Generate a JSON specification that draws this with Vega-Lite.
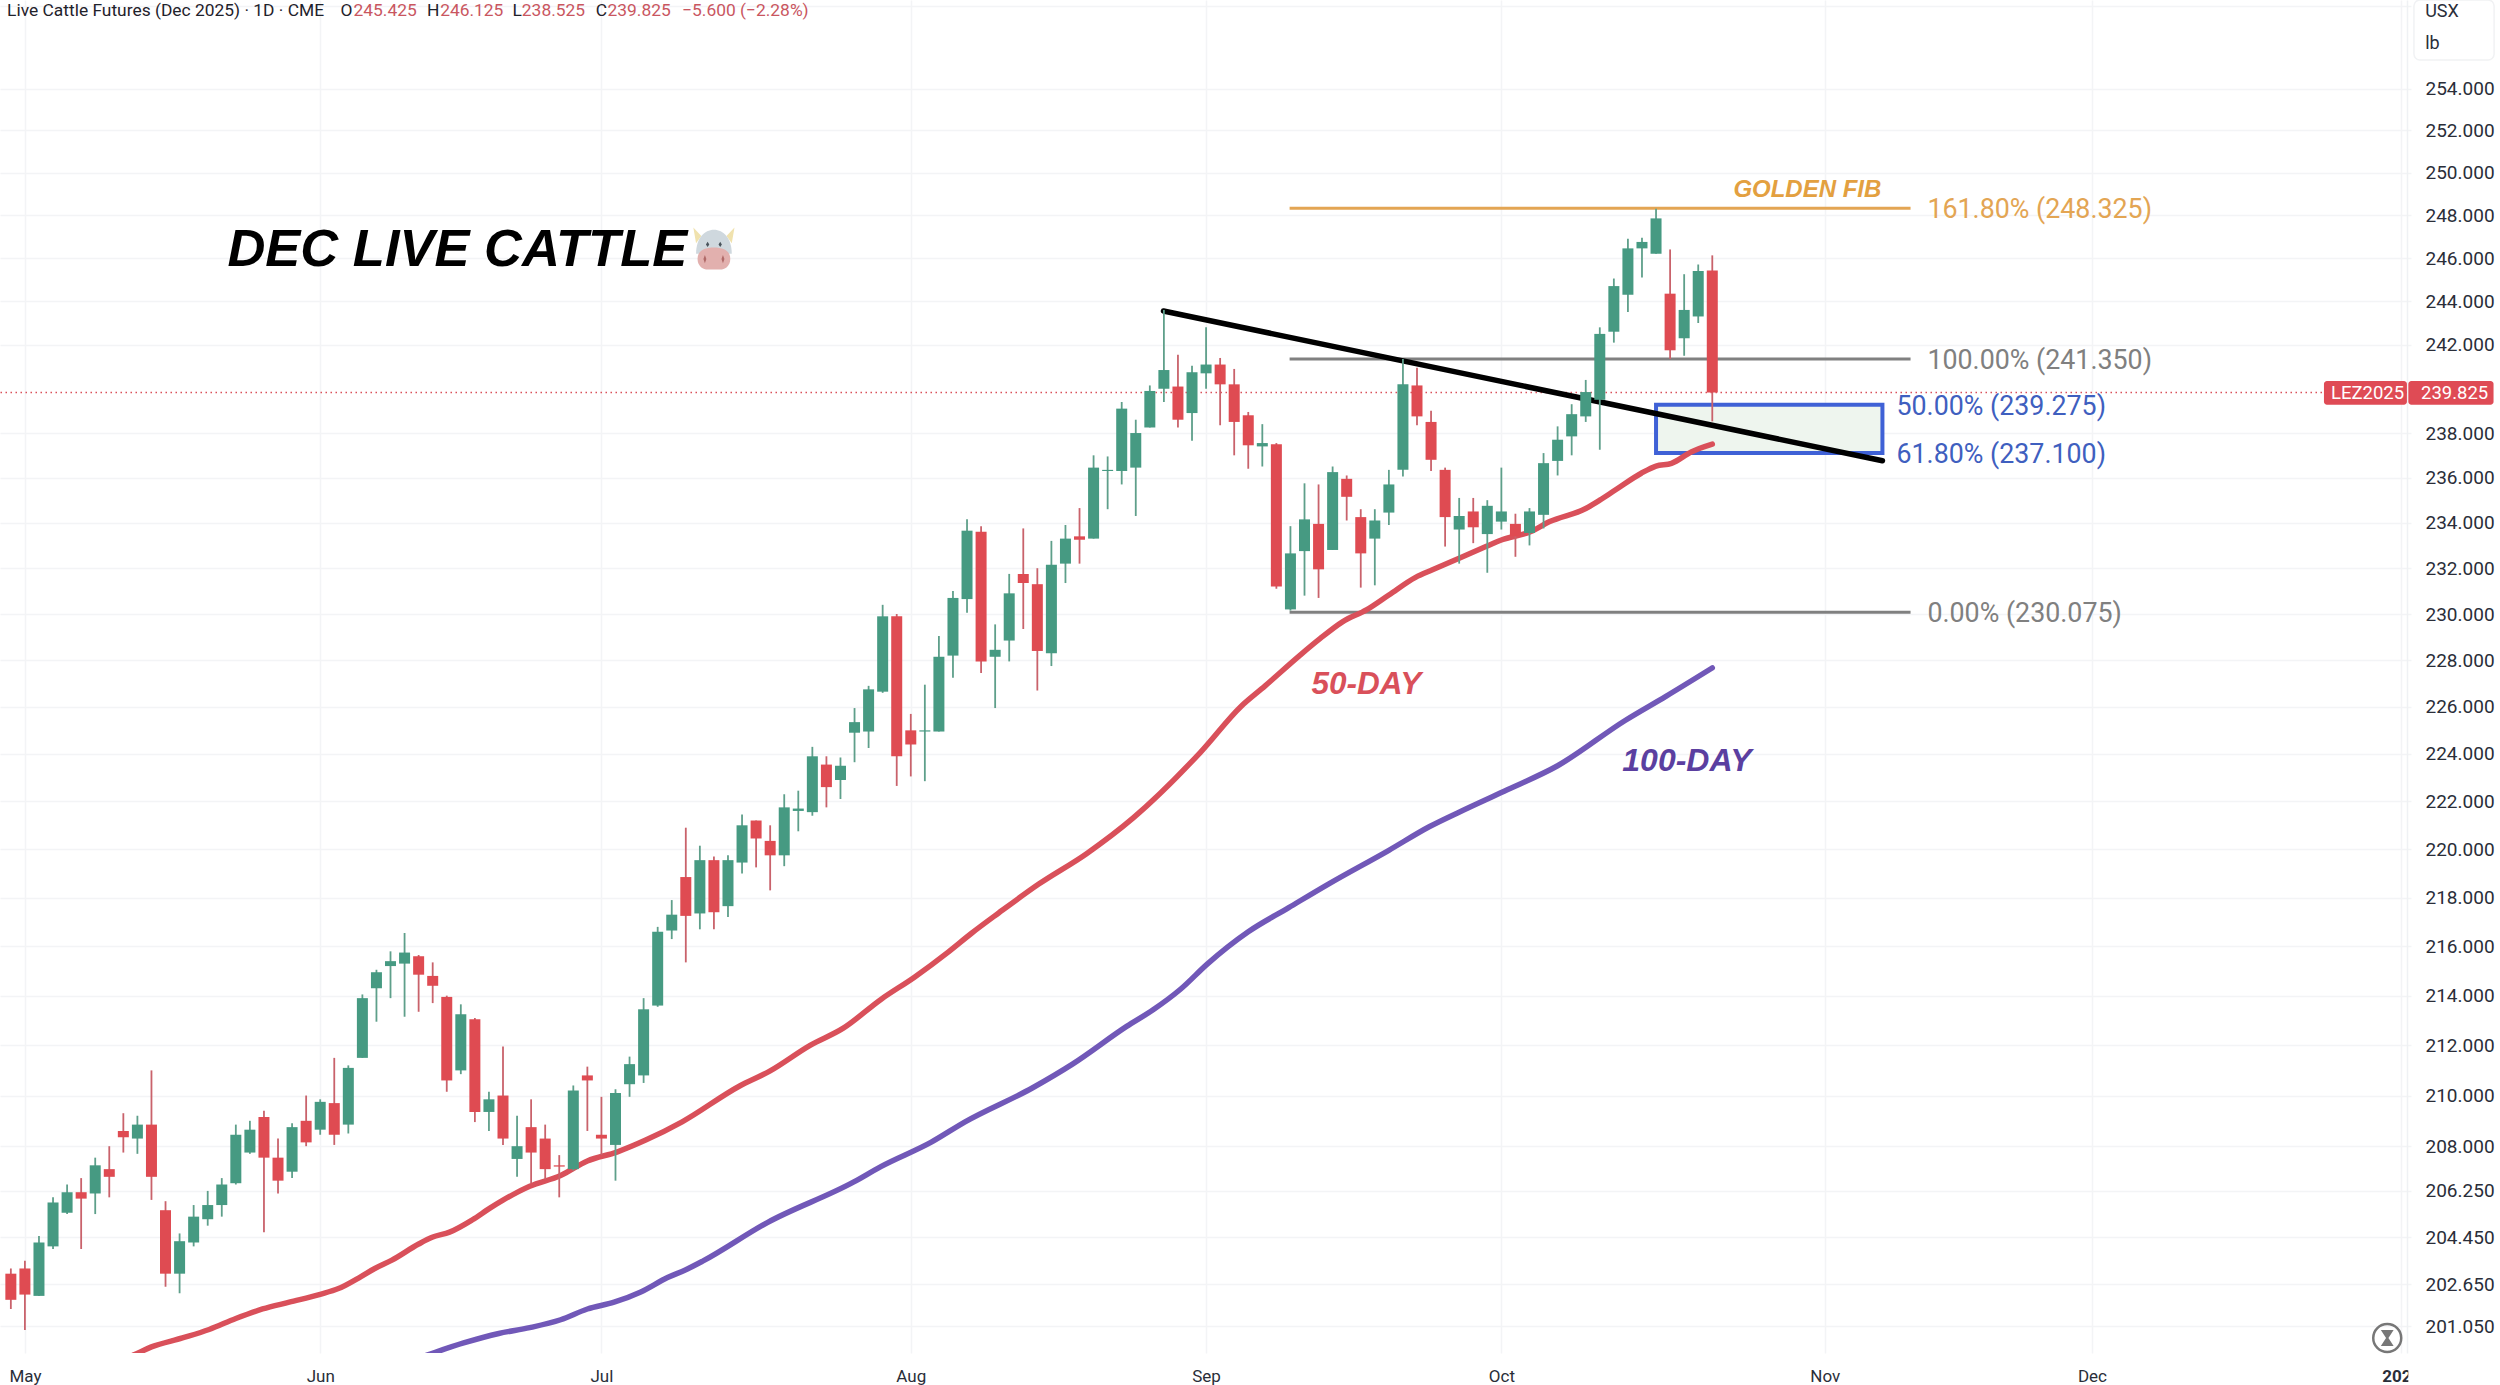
{
  "$schema": "https://vega.github.io/schema/vega-lite/v6.json",
  "width": 2407,
  "height": 1353,
  "autosize": "none",
  "padding": {"left": 0, "top": 0, "right": 93, "bottom": 32},
  "background": "white",
  "config": {"view": {"stroke": null}, "font": "Roboto"},
  "resolve": {"scale": {"color": "independent"}},
  "datasets": {
    "candles": [
      {"bar":-1,"open":203.05,"high":203.25,"low":201.7,"close":202.05},
      {"bar":0,"open":203.25,"high":203.55,"low":200.9,"close":202.25},
      {"bar":1,"open":202.2,"high":204.5,"low":202.2,"close":204.25},
      {"bar":2,"open":204.1,"high":206.0,"low":204.0,"close":205.8},
      {"bar":3,"open":205.4,"high":206.5,"low":205.35,"close":206.2},
      {"bar":4,"open":206.2,"high":206.75,"low":204.0,"close":205.95},
      {"bar":5,"open":206.15,"high":207.55,"low":205.35,"close":207.25},
      {"bar":6,"open":207.1,"high":208.0,"low":206.0,"close":206.8},
      {"bar":7,"open":208.6,"high":209.3,"low":207.75,"close":208.35},
      {"bar":8,"open":208.3,"high":209.2,"low":207.7,"close":208.85},
      {"bar":9,"open":208.85,"high":211.0,"low":205.9,"close":206.8},
      {"bar":10,"open":205.5,"high":205.85,"low":202.55,"close":203.05},
      {"bar":11,"open":203.05,"high":204.6,"low":202.3,"close":204.3},
      {"bar":12,"open":204.25,"high":205.7,"low":204.1,"close":205.25},
      {"bar":13,"open":205.15,"high":206.25,"low":204.9,"close":205.7},
      {"bar":14,"open":205.7,"high":206.75,"low":205.25,"close":206.5},
      {"bar":15,"open":206.55,"high":208.85,"low":206.5,"close":208.45},
      {"bar":16,"open":207.75,"high":209.0,"low":207.7,"close":208.65},
      {"bar":17,"open":209.15,"high":209.4,"low":204.65,"close":207.55},
      {"bar":18,"open":207.55,"high":208.3,"low":206.15,"close":206.65},
      {"bar":19,"open":207.0,"high":208.9,"low":206.75,"close":208.75},
      {"bar":20,"open":209.0,"high":210.0,"low":208.0,"close":208.15},
      {"bar":21,"open":208.65,"high":209.85,"low":208.45,"close":209.75},
      {"bar":22,"open":209.7,"high":211.5,"low":208.05,"close":208.45},
      {"bar":23,"open":208.85,"high":211.2,"low":208.5,"close":211.1},
      {"bar":24,"open":211.5,"high":214.05,"low":211.5,"close":213.9},
      {"bar":25,"open":214.3,"high":215.05,"low":212.95,"close":214.95},
      {"bar":26,"open":215.2,"high":215.8,"low":213.9,"close":215.4},
      {"bar":27,"open":215.3,"high":216.55,"low":213.15,"close":215.75},
      {"bar":28,"open":215.6,"high":215.65,"low":213.35,"close":214.85},
      {"bar":29,"open":214.8,"high":215.35,"low":213.7,"close":214.4},
      {"bar":30,"open":213.95,"high":214.0,"low":210.15,"close":210.6},
      {"bar":31,"open":211.0,"high":213.65,"low":210.85,"close":213.25},
      {"bar":32,"open":213.05,"high":213.1,"low":208.95,"close":209.35},
      {"bar":33,"open":209.35,"high":210.15,"low":208.6,"close":209.85},
      {"bar":34,"open":210.0,"high":211.95,"low":208.05,"close":208.3},
      {"bar":35,"open":207.5,"high":209.2,"low":206.8,"close":208.0},
      {"bar":36,"open":208.75,"high":209.85,"low":206.55,"close":207.75},
      {"bar":37,"open":208.3,"high":208.85,"low":206.7,"close":207.1},
      {"bar":38,"open":207.25,"high":207.65,"low":206.0,"close":207.2},
      {"bar":39,"open":207.1,"high":210.4,"low":207.05,"close":210.2},
      {"bar":40,"open":210.8,"high":211.15,"low":208.6,"close":210.6},
      {"bar":41,"open":208.45,"high":209.95,"low":207.65,"close":208.3},
      {"bar":42,"open":208.05,"high":210.25,"low":206.65,"close":210.1},
      {"bar":43,"open":210.45,"high":211.55,"low":209.95,"close":211.25},
      {"bar":44,"open":210.8,"high":213.9,"low":210.5,"close":213.45},
      {"bar":45,"open":213.6,"high":216.8,"low":213.55,"close":216.6},
      {"bar":46,"open":216.65,"high":217.9,"low":216.3,"close":217.3},
      {"bar":47,"open":218.85,"high":220.9,"low":215.35,"close":217.25},
      {"bar":48,"open":217.35,"high":220.15,"low":216.7,"close":219.55},
      {"bar":49,"open":219.55,"high":219.7,"low":216.7,"close":217.4},
      {"bar":50,"open":217.65,"high":219.75,"low":217.2,"close":219.55},
      {"bar":51,"open":219.45,"high":221.45,"low":219.0,"close":221.0},
      {"bar":52,"open":221.2,"high":221.2,"low":219.25,"close":220.45},
      {"bar":53,"open":220.35,"high":221.0,"low":218.3,"close":219.75},
      {"bar":54,"open":219.75,"high":222.3,"low":219.3,"close":221.75},
      {"bar":55,"open":221.6,"high":222.45,"low":220.75,"close":221.7},
      {"bar":56,"open":221.55,"high":224.3,"low":221.4,"close":223.9},
      {"bar":57,"open":223.55,"high":223.9,"low":221.75,"close":222.6},
      {"bar":58,"open":222.9,"high":223.85,"low":222.1,"close":223.5},
      {"bar":59,"open":224.9,"high":225.95,"low":223.65,"close":225.35},
      {"bar":60,"open":224.95,"high":226.9,"low":224.25,"close":226.75},
      {"bar":61,"open":226.65,"high":230.4,"low":226.6,"close":229.9},
      {"bar":62,"open":229.9,"high":230.0,"low":222.65,"close":223.9},
      {"bar":63,"open":225.0,"high":225.7,"low":223.05,"close":224.4},
      {"bar":64,"open":224.95,"high":226.95,"low":222.85,"close":225.0},
      {"bar":65,"open":224.95,"high":229.05,"low":224.95,"close":228.15},
      {"bar":66,"open":228.2,"high":231.0,"low":227.25,"close":230.7},
      {"bar":67,"open":230.65,"high":234.15,"low":230.05,"close":233.65},
      {"bar":68,"open":233.6,"high":233.85,"low":227.45,"close":227.95},
      {"bar":69,"open":228.15,"high":229.55,"low":225.95,"close":228.45},
      {"bar":70,"open":228.85,"high":231.75,"low":227.95,"close":230.9},
      {"bar":71,"open":231.75,"high":233.75,"low":229.35,"close":231.35},
      {"bar":72,"open":231.3,"high":232.0,"low":226.7,"close":228.4},
      {"bar":73,"open":228.3,"high":233.2,"low":227.75,"close":232.15},
      {"bar":74,"open":232.2,"high":233.9,"low":231.35,"close":233.3},
      {"bar":75,"open":233.4,"high":234.65,"low":232.2,"close":233.25},
      {"bar":76,"open":233.3,"high":237.0,"low":233.3,"close":236.45},
      {"bar":77,"open":236.3,"high":236.95,"low":234.6,"close":236.35},
      {"bar":78,"open":236.3,"high":239.4,"low":235.7,"close":239.1},
      {"bar":79,"open":236.45,"high":238.6,"low":234.3,"close":238.0},
      {"bar":80,"open":238.25,"high":240.15,"low":238.25,"close":239.9},
      {"bar":81,"open":240.0,"high":243.6,"low":239.4,"close":240.85},
      {"bar":82,"open":240.1,"high":241.55,"low":238.25,"close":238.6},
      {"bar":83,"open":238.9,"high":241.05,"low":237.65,"close":240.75},
      {"bar":84,"open":240.7,"high":242.8,"low":240.0,"close":241.1},
      {"bar":85,"open":241.1,"high":241.4,"low":238.35,"close":240.2},
      {"bar":86,"open":240.2,"high":240.9,"low":237.0,"close":238.5},
      {"bar":87,"open":238.8,"high":238.95,"low":236.4,"close":237.45},
      {"bar":88,"open":237.4,"high":238.4,"low":236.5,"close":237.55},
      {"bar":89,"open":237.5,"high":237.55,"low":231.1,"close":231.2},
      {"bar":90,"open":230.2,"high":233.85,"low":230.15,"close":232.65},
      {"bar":91,"open":232.75,"high":235.75,"low":230.8,"close":234.15},
      {"bar":92,"open":233.95,"high":235.7,"low":230.7,"close":231.95},
      {"bar":93,"open":232.8,"high":236.5,"low":232.8,"close":236.25},
      {"bar":94,"open":235.95,"high":236.1,"low":234.1,"close":235.15},
      {"bar":95,"open":234.25,"high":234.6,"low":231.15,"close":232.65},
      {"bar":96,"open":233.3,"high":234.6,"low":231.25,"close":234.1},
      {"bar":97,"open":234.45,"high":236.35,"low":233.9,"close":235.7},
      {"bar":98,"open":236.35,"high":241.35,"low":236.05,"close":240.2},
      {"bar":99,"open":240.15,"high":240.95,"low":238.35,"close":238.75},
      {"bar":100,"open":238.5,"high":239.0,"low":236.3,"close":236.8},
      {"bar":101,"open":236.35,"high":236.45,"low":232.95,"close":234.25},
      {"bar":102,"open":233.7,"high":235.1,"low":232.2,"close":234.3},
      {"bar":103,"open":234.5,"high":235.1,"low":233.1,"close":233.8},
      {"bar":104,"open":233.5,"high":235.0,"low":231.8,"close":234.75},
      {"bar":105,"open":234.05,"high":236.45,"low":233.7,"close":234.5},
      {"bar":106,"open":233.95,"high":234.4,"low":232.5,"close":233.4},
      {"bar":107,"open":233.55,"high":234.65,"low":233.0,"close":234.5},
      {"bar":108,"open":234.35,"high":237.1,"low":233.75,"close":236.65},
      {"bar":109,"open":236.75,"high":238.3,"low":236.1,"close":237.7},
      {"bar":110,"open":237.85,"high":239.3,"low":237.0,"close":238.85},
      {"bar":111,"open":238.75,"high":240.4,"low":238.5,"close":239.85},
      {"bar":112,"open":239.5,"high":242.8,"low":237.25,"close":242.5},
      {"bar":113,"open":242.6,"high":245.05,"low":242.1,"close":244.7},
      {"bar":114,"open":244.3,"high":246.9,"low":243.5,"close":246.45},
      {"bar":115,"open":246.45,"high":246.95,"low":245.1,"close":246.75},
      {"bar":116,"open":246.2,"high":248.3,"low":246.2,"close":247.85},
      {"bar":117,"open":244.35,"high":246.4,"low":241.35,"close":241.75},
      {"bar":118,"open":242.3,"high":245.25,"low":241.5,"close":243.6},
      {"bar":119,"open":243.3,"high":245.7,"low":243.0,"close":245.4},
      {"bar":120,"open":245.425,"high":246.125,"low":238.525,"close":239.825}
    ],
    "ma50": [
      {"bar":6.5,"price":199.7},{"bar":7.76,"price":199.96},{"bar":9,"price":200.26},{"bar":11.2,"price":200.6},
      {"bar":13.1,"price":200.92},{"bar":15,"price":201.34},{"bar":16.9,"price":201.7},{"bar":18.8,"price":201.96},
      {"bar":21,"price":202.26},{"bar":22.3,"price":202.48},{"bar":23.9,"price":202.94},{"bar":24.85,"price":203.24},
      {"bar":26.1,"price":203.57},{"bar":28,"price":204.19},{"bar":28.96,"price":204.45},{"bar":30.2,"price":204.65},
      {"bar":31.8,"price":205.12},{"bar":33.1,"price":205.59},{"bar":34,"price":205.89},{"bar":35.9,"price":206.43},
      {"bar":38.1,"price":206.85},{"bar":40,"price":207.42},{"bar":42.1,"price":207.77},{"bar":44.15,"price":208.24},
      {"bar":46.74,"price":208.96},{"bar":50.8,"price":210.37},{"bar":53,"price":210.98},{"bar":55.84,"price":212.0},
      {"bar":58.2,"price":212.69},{"bar":60.9,"price":213.86},{"bar":63.26,"price":214.75},{"bar":65.66,"price":215.77},
      {"bar":67.3,"price":216.53},{"bar":69.25,"price":217.37},{"bar":72.1,"price":218.56},{"bar":75.5,"price":219.82},
      {"bar":78.8,"price":221.3},{"bar":83.6,"price":224.07},{"bar":86.5,"price":226.03},{"bar":88.2,"price":226.9},
      {"bar":90.65,"price":228.2},{"bar":92.1,"price":228.93},{"bar":93.7,"price":229.66},{"bar":95.4,"price":230.18},
      {"bar":97,"price":230.83},{"bar":98.9,"price":231.6},{"bar":100.1,"price":231.93},{"bar":102,"price":232.44},
      {"bar":103.9,"price":232.95},{"bar":105,"price":233.24},{"bar":107.1,"price":233.61},{"bar":108.4,"price":234.04},
      {"bar":111,"price":234.63},{"bar":112,"price":235.0},{"bar":113.1,"price":235.45},{"bar":114.95,"price":236.2},
      {"bar":116,"price":236.52},{"bar":117.1,"price":236.64},{"bar":118.5,"price":237.15},{"bar":120,"price":237.5}
    ],
    "ma100": [
      {"bar":27.5,"price":199.75},{"bar":28.65,"price":199.96},{"bar":31.2,"price":200.41},{"bar":33.7,"price":200.77},
      {"bar":35.9,"price":200.99},{"bar":38.1,"price":201.29},{"bar":40,"price":201.7},{"bar":41.9,"price":201.96},
      {"bar":43.8,"price":202.35},{"bar":45.7,"price":202.9},{"bar":47,"price":203.2},{"bar":48.2,"price":203.53},
      {"bar":52.8,"price":205.02},{"bar":58.95,"price":206.6},{"bar":60.87,"price":207.2},{"bar":64.46,"price":208.16},
      {"bar":66.86,"price":208.96},{"bar":71.64,"price":210.3},{"bar":74.5,"price":211.25},{"bar":78.35,"price":212.76},
      {"bar":80.26,"price":213.44},{"bar":82.2,"price":214.27},{"bar":84.1,"price":215.29},{"bar":87,"price":216.6},
      {"bar":89.85,"price":217.58},{"bar":92.7,"price":218.56},{"bar":97,"price":219.96},{"bar":99.9,"price":220.95},
      {"bar":102.1,"price":221.58},{"bar":105.2,"price":222.43},{"bar":109,"price":223.5},{"bar":113.8,"price":225.42},
      {"bar":116.7,"price":226.45},{"bar":120,"price":227.67}
    ],
    "fibs": [
      {"level":"161.80%","price":248.325,"start":89.94,"end":134.1,"label":"161.80% (248.325)","labelBar":135.3},
      {"level":"100.00%","price":241.35,"start":89.94,"end":134.1,"label":"100.00% (241.350)","labelBar":135.3},
      {"level":"0.00%","price":230.075,"start":89.94,"end":134.1,"label":"0.00% (230.075)","labelBar":135.3}
    ],
    "cow": [
      {"part":"horns","bar":49,"price":246.44},
      {"part":"head","bar":49,"price":246.44},
      {"part":"muzzle","bar":49,"price":246.44},
      {"part":"eyes","bar":49,"price":246.44},
      {"part":"nostrils","bar":49,"price":246.44}
    ]
  },
  "layer": [
    {
      "data": {"name": "candles"},
      "mark": {"type": "rule", "opacity": 0},
      "encoding": {
        "x": {"field": "bar", "type": "quantitative",
          "scale": {"domain": [-1.416, 169.05], "nice": false, "zero": false},
          "axis": {"title": null, "orient": "bottom", "values": [0, 21, 41, 63, 84, 105, 128, 147, 169],
            "labelExpr": "{'0':'May','21':'Jun','41':'Jul','63':'Aug','84':'Sep','105':'Oct','128':'Nov','147':'Dec','169':'2026'}[datum.value]",
            "labelFontWeight": {"expr": "datum.value==169?'bold':'normal'"},
            "labelFont": "Roboto", "labelFontSize": 17, "labelColor": "#2a2e39", "labelPadding": 15, "labelOverlap": false, "labelFlush": false,
            "domain": false, "ticks": false, "grid": true, "gridColor": "#F3F4F6", "gridWidth": 1.5}},
        "y": {"field": "low", "type": "quantitative",
          "scale": {"type": "log", "domain": [200.03, 258.29], "nice": false, "zero": false},
          "axis": {"title": null, "orient": "right",
            "values": [258, 254, 252, 250, 248, 246, 244, 242, 238, 236, 234, 232, 230, 228, 226, 224, 222, 220, 218, 216, 214, 212, 210, 208, 206.25, 204.45, 202.65, 201.05],
            "labelExpr": "datum.value==258?'':format(datum.value,'.3f')",
            "labelFont": "Roboto", "labelFontSize": 19, "labelColor": "#2a2e39", "labelPadding": 14, "labelOverlap": false, "labelFlush": false,
            "domain": true, "domainColor": "#EFF1F4", "domainWidth": 1.5,
            "ticks": true, "tickSize": 4, "tickColor": "#F3F4F6", "tickWidth": 1.5,
            "grid": true, "gridColor": "#F3F4F6", "gridWidth": 1.5}}
      }
    },
    {
      "data": {"values": [{"price": 239.825}]},
      "mark": {"type": "rule", "color": "#D9505A", "strokeWidth": 1.5, "strokeDash": [1.5, 3.5]},
      "encoding": {
        "y": {"field": "price", "type": "quantitative", "scale": {"type": "log", "domain": [200.03, 258.29], "nice": false, "zero": false}}
      }
    },
    {
      "data": {"values": [{"start": 116, "end": 132.1, "top": 239.275, "bottom": 237.1}]},
      "mark": {"type": "rect", "fill": "#EEF5EE", "stroke": "#3F61D6", "strokeWidth": 4},
      "encoding": {
        "x": {"field": "start", "type": "quantitative", "scale": {"domain": [-1.416, 169.05], "nice": false, "zero": false}},
        "x2": {"field": "end"},
        "y": {"field": "top", "type": "quantitative", "scale": {"type": "log", "domain": [200.03, 258.29], "nice": false, "zero": false}},
        "y2": {"field": "bottom"}
      }
    },
    {
      "data": {"name": "fibs"},
      "mark": {"type": "rule", "strokeWidth": 3},
      "encoding": {
        "x": {"field": "start", "type": "quantitative", "scale": {"domain": [-1.416, 169.05], "nice": false, "zero": false}},
        "x2": {"field": "end"},
        "y": {"field": "price", "type": "quantitative", "scale": {"type": "log", "domain": [200.03, 258.29], "nice": false, "zero": false}},
        "color": {"field": "level", "type": "nominal", "legend": null,
          "scale": {"domain": ["161.80%", "100.00%", "0.00%"], "range": ["#E3A553", "#808080", "#808080"]}}
      }
    },
    {
      "data": {"name": "fibs"},
      "mark": {"type": "text", "align": "left", "baseline": "middle", "font": "Roboto", "fontSize": 26.8, "dy": 2},
      "encoding": {
        "x": {"field": "labelBar", "type": "quantitative", "scale": {"domain": [-1.416, 169.05], "nice": false, "zero": false}},
        "y": {"field": "price", "type": "quantitative", "scale": {"type": "log", "domain": [200.03, 258.29], "nice": false, "zero": false}},
        "text": {"field": "label"},
        "color": {"field": "level", "type": "nominal", "legend": null,
          "scale": {"domain": ["161.80%", "100.00%", "0.00%"], "range": ["#E3A553", "#808080", "#808080"]}}
      }
    },
    {
      "data": {"values": [
        {"price": 239.275, "bar": 133.1, "label": "50.00% (239.275)"},
        {"price": 237.1, "bar": 133.1, "label": "61.80% (237.100)"}
      ]},
      "mark": {"type": "text", "align": "left", "baseline": "middle", "font": "Roboto", "fontSize": 26.8, "dy": 2, "color": "#3F5FBF"},
      "encoding": {
        "x": {"field": "bar", "type": "quantitative", "scale": {"domain": [-1.416, 169.05], "nice": false, "zero": false}},
        "y": {"field": "price", "type": "quantitative", "scale": {"type": "log", "domain": [200.03, 258.29], "nice": false, "zero": false}},
        "text": {"field": "label"}
      }
    },
    {
      "data": {"values": [{"bar": 80.97, "price": 243.55}, {"bar": 132.1, "price": 236.76}]},
      "mark": {"type": "line", "color": "black", "strokeWidth": 5.5, "strokeCap": "round"},
      "encoding": {
        "x": {"field": "bar", "type": "quantitative", "scale": {"domain": [-1.416, 169.05], "nice": false, "zero": false}},
        "y": {"field": "price", "type": "quantitative", "scale": {"type": "log", "domain": [200.03, 258.29], "nice": false, "zero": false}}
      }
    },
    {
      "data": {"name": "ma50"},
      "mark": {"type": "line", "color": "#D9505A", "strokeWidth": 5.5, "strokeCap": "round", "clip": true, "interpolate": "monotone"},
      "encoding": {
        "x": {"field": "bar", "type": "quantitative", "scale": {"domain": [-1.416, 169.05], "nice": false, "zero": false}},
        "y": {"field": "price", "type": "quantitative", "scale": {"type": "log", "domain": [200.03, 258.29], "nice": false, "zero": false}}
      }
    },
    {
      "data": {"name": "ma100"},
      "mark": {"type": "line", "color": "#7158B8", "strokeWidth": 5.5, "strokeCap": "round", "clip": true, "interpolate": "monotone"},
      "encoding": {
        "x": {"field": "bar", "type": "quantitative", "scale": {"domain": [-1.416, 169.05], "nice": false, "zero": false}},
        "y": {"field": "price", "type": "quantitative", "scale": {"type": "log", "domain": [200.03, 258.29], "nice": false, "zero": false}}
      }
    },
    {
      "data": {"name": "candles"},
      "mark": {"type": "rule", "strokeWidth": 1.8},
      "encoding": {
        "x": {"field": "bar", "type": "quantitative", "scale": {"domain": [-1.416, 169.05], "nice": false, "zero": false}},
        "y": {"field": "low", "type": "quantitative", "scale": {"type": "log", "domain": [200.03, 258.29], "nice": false, "zero": false}},
        "y2": {"field": "high"},
        "color": {"condition": {"test": "datum.open < datum.close", "value": "#5E9F8A"}, "value": "#C9626B"}
      }
    },
    {
      "data": {"name": "candles"},
      "mark": {"type": "bar", "size": 11},
      "encoding": {
        "x": {"field": "bar", "type": "quantitative", "scale": {"domain": [-1.416, 169.05], "nice": false, "zero": false}},
        "y": {"field": "open", "type": "quantitative", "scale": {"type": "log", "domain": [200.03, 258.29], "nice": false, "zero": false}},
        "y2": {"field": "close"},
        "color": {"condition": {"test": "datum.open < datum.close", "value": "#469A82"}, "value": "#DF4B52"}
      }
    },
    {
      "data": {"values": [{"bar": 14.4, "price": 246.46, "label": "DEC LIVE CATTLE"}]},
      "mark": {"type": "text", "align": "left", "baseline": "middle", "font": "Liberation Sans", "fontWeight": "bold", "fontStyle": "italic", "fontSize": 52.5, "dy": 2, "color": "black"},
      "encoding": {
        "x": {"field": "bar", "type": "quantitative", "scale": {"domain": [-1.416, 169.05], "nice": false, "zero": false}},
        "y": {"field": "price", "type": "quantitative", "scale": {"type": "log", "domain": [200.03, 258.29], "nice": false, "zero": false}},
        "text": {"field": "label"}
      }
    },
    {
      "data": {"name": "cow"},
      "mark": {"type": "point", "filled": true, "opacity": 1, "size": 1764},
      "encoding": {
        "x": {"field": "bar", "type": "quantitative", "scale": {"domain": [-1.416, 169.05], "nice": false, "zero": false}},
        "y": {"field": "price", "type": "quantitative", "scale": {"type": "log", "domain": [200.03, 258.29], "nice": false, "zero": false}},
        "color": {"field": "part", "type": "nominal", "legend": null, "sort": null,
          "scale": {"domain": ["horns", "head", "muzzle", "eyes", "nostrils"], "range": ["#F0E2AE", "#CFD8DE", "#E2B0AE", "#4A545C", "#B06A68"]}},
        "shape": {"field": "part", "type": "nominal", "legend": null,
          "scale": {"domain": ["horns", "head", "muzzle", "eyes", "nostrils"],
            "range": [
              "M-0.98,-1 L-0.6,-0.6 L-0.85,-0.25 Z M0.98,-1 L0.6,-0.6 L0.85,-0.25 Z",
              "M-0.85,0.25 C-0.85,-0.5 -0.45,-0.9 0,-0.9 C0.45,-0.9 0.85,-0.5 0.85,0.25 Z",
              "M-0.78,0.48 C-0.78,0.08 -0.4,-0.05 0,-0.05 C0.4,-0.05 0.78,0.08 0.78,0.48 C0.78,0.85 0.5,1 0.3,1 L-0.3,1 C-0.5,1 -0.78,0.85 -0.78,0.48 Z",
              "M-0.38,-0.2 L-0.3,-0.32 L-0.22,-0.2 L-0.3,-0.08 Z M0.22,-0.2 L0.3,-0.32 L0.38,-0.2 L0.3,-0.08 Z",
              "M-0.5,0.5 L-0.43,0.3 L-0.36,0.5 L-0.43,0.7 Z M0.36,0.5 L0.43,0.3 L0.5,0.5 L0.43,0.7 Z"
            ]}}
      }
    },
    {
      "data": {"values": [{"bar": 121.5, "price": 249.28, "label": "GOLDEN FIB"}]},
      "mark": {"type": "text", "align": "left", "baseline": "middle", "font": "Liberation Sans", "fontWeight": "bold", "fontStyle": "italic", "fontSize": 24, "dy": 2, "color": "#E3A040"},
      "encoding": {
        "x": {"field": "bar", "type": "quantitative", "scale": {"domain": [-1.416, 169.05], "nice": false, "zero": false}},
        "y": {"field": "price", "type": "quantitative", "scale": {"type": "log", "domain": [200.03, 258.29], "nice": false, "zero": false}},
        "text": {"field": "label"}
      }
    },
    {
      "data": {"values": [{"bar": 91.5, "price": 227.03, "label": "50-DAY"}]},
      "mark": {"type": "text", "align": "left", "baseline": "middle", "font": "Liberation Sans", "fontWeight": "bold", "fontStyle": "italic", "fontSize": 31.5, "dy": 2, "color": "#D9505A"},
      "encoding": {
        "x": {"field": "bar", "type": "quantitative", "scale": {"domain": [-1.416, 169.05], "nice": false, "zero": false}},
        "y": {"field": "price", "type": "quantitative", "scale": {"type": "log", "domain": [200.03, 258.29], "nice": false, "zero": false}},
        "text": {"field": "label"}
      }
    },
    {
      "data": {"values": [{"bar": 113.6, "price": 223.79, "label": "100-DAY"}]},
      "mark": {"type": "text", "align": "left", "baseline": "middle", "font": "Liberation Sans", "fontWeight": "bold", "fontStyle": "italic", "fontSize": 32, "dy": 2, "color": "#5B3FA0"},
      "encoding": {
        "x": {"field": "bar", "type": "quantitative", "scale": {"domain": [-1.416, 169.05], "nice": false, "zero": false}},
        "y": {"field": "price", "type": "quantitative", "scale": {"type": "log", "domain": [200.03, 258.29], "nice": false, "zero": false}},
        "text": {"field": "label"}
      }
    },
    {
      "data": {"values": [
        {"bar": -1.27, "price": 257.75, "label": "Live Cattle Futures (Dec 2025) · 1D · CME"},
        {"bar": 22.45, "price": 257.75, "label": "O"},
        {"bar": 28.6, "price": 257.75, "label": "H"},
        {"bar": 34.67, "price": 257.75, "label": "L"},
        {"bar": 40.6, "price": 257.75, "label": "C"}
      ]},
      "mark": {"type": "text", "align": "left", "baseline": "middle", "font": "Roboto", "fontSize": 17.4, "color": "#1f222b"},
      "encoding": {
        "x": {"field": "bar", "type": "quantitative", "scale": {"domain": [-1.416, 169.05], "nice": false, "zero": false}},
        "y": {"field": "price", "type": "quantitative", "scale": {"type": "log", "domain": [200.03, 258.29], "nice": false, "zero": false}},
        "text": {"field": "label"}
      }
    },
    {
      "data": {"values": [
        {"bar": 23.37, "price": 257.75, "label": "245.425"},
        {"bar": 29.53, "price": 257.75, "label": "246.125"},
        {"bar": 35.34, "price": 257.75, "label": "238.525"},
        {"bar": 41.43, "price": 257.75, "label": "239.825"},
        {"bar": 46.74, "price": 257.75, "label": "−5.600 (−2.28%)"}
      ]},
      "mark": {"type": "text", "align": "left", "baseline": "middle", "font": "Roboto", "fontSize": 17.4, "color": "#C9565F"},
      "encoding": {
        "x": {"field": "bar", "type": "quantitative", "scale": {"domain": [-1.416, 169.05], "nice": false, "zero": false}},
        "y": {"field": "price", "type": "quantitative", "scale": {"type": "log", "domain": [200.03, 258.29], "nice": false, "zero": false}},
        "text": {"field": "label"}
      }
    },
    {
      "data": {"values": [{"start": 169.9, "end": 175.6, "top": 258.29, "bottom": 255.38}]},
      "mark": {"type": "rect", "fill": "white", "stroke": "#F1F2F4", "strokeWidth": 1.5, "cornerRadius": 6},
      "encoding": {
        "x": {"field": "start", "type": "quantitative", "scale": {"domain": [-1.416, 169.05], "nice": false, "zero": false}},
        "x2": {"field": "end"},
        "y": {"field": "top", "type": "quantitative", "scale": {"type": "log", "domain": [200.03, 258.29], "nice": false, "zero": false}},
        "y2": {"field": "bottom"}
      }
    },
    {
      "data": {"values": [
        {"bar": 170.7, "price": 257.7, "label": "USX"},
        {"bar": 170.7, "price": 256.15, "label": "lb"}
      ]},
      "mark": {"type": "text", "align": "left", "baseline": "middle", "font": "Roboto", "fontSize": 18, "color": "#2a2e39"},
      "encoding": {
        "x": {"field": "bar", "type": "quantitative", "scale": {"domain": [-1.416, 169.05], "nice": false, "zero": false}},
        "y": {"field": "price", "type": "quantitative", "scale": {"type": "log", "domain": [200.03, 258.29], "nice": false, "zero": false}},
        "text": {"field": "label"}
      }
    },
    {
      "data": {"values": [
        {"start": 163.5, "end": 169.4, "top": 240.35, "bottom": 239.28},
        {"start": 169.5, "end": 175.56, "top": 240.35, "bottom": 239.28}
      ]},
      "mark": {"type": "rect", "fill": "#DF4B55", "cornerRadius": 3},
      "encoding": {
        "x": {"field": "start", "type": "quantitative", "scale": {"domain": [-1.416, 169.05], "nice": false, "zero": false}},
        "x2": {"field": "end"},
        "y": {"field": "top", "type": "quantitative", "scale": {"type": "log", "domain": [200.03, 258.29], "nice": false, "zero": false}},
        "y2": {"field": "bottom"}
      }
    },
    {
      "data": {"values": [
        {"bar": 164, "price": 239.825, "label": "LEZ2025"},
        {"bar": 170.4, "price": 239.825, "label": "239.825"}
      ]},
      "mark": {"type": "text", "align": "left", "baseline": "middle", "font": "Roboto", "fontSize": 18.5, "color": "white"},
      "encoding": {
        "x": {"field": "bar", "type": "quantitative", "scale": {"domain": [-1.416, 169.05], "nice": false, "zero": false}},
        "y": {"field": "price", "type": "quantitative", "scale": {"type": "log", "domain": [200.03, 258.29], "nice": false, "zero": false}},
        "text": {"field": "label"}
      }
    },
    {
      "data": {"values": [{"start": 169.5, "end": 175.6, "top": 199.97, "bottom": 198.85}]},
      "mark": {"type": "rect", "fill": "white"},
      "encoding": {
        "x": {"field": "start", "type": "quantitative", "scale": {"domain": [-1.416, 169.05], "nice": false, "zero": false}},
        "x2": {"field": "end"},
        "y": {"field": "top", "type": "quantitative", "scale": {"type": "log", "domain": [200.03, 258.29], "nice": false, "zero": false}},
        "y2": {"field": "bottom"}
      }
    },
    {
      "data": {"values": [{"bar": 168, "price": 200.6}]},
      "mark": {"type": "point", "shape": "circle", "filled": false, "size": 784, "stroke": "#777777", "strokeWidth": 2.5, "opacity": 1},
      "encoding": {
        "x": {"field": "bar", "type": "quantitative", "scale": {"domain": [-1.416, 169.05], "nice": false, "zero": false}},
        "y": {"field": "price", "type": "quantitative", "scale": {"type": "log", "domain": [200.03, 258.29], "nice": false, "zero": false}}
      }
    },
    {
      "data": {"values": [{"bar": 168, "price": 200.6}]},
      "mark": {"type": "point", "shape": "M-0.8,-1 L0.8,-1 L0.15,0 L0.8,1 L-0.8,1 L-0.15,0 Z", "filled": true, "size": 256, "color": "#777777", "opacity": 1},
      "encoding": {
        "x": {"field": "bar", "type": "quantitative", "scale": {"domain": [-1.416, 169.05], "nice": false, "zero": false}},
        "y": {"field": "price", "type": "quantitative", "scale": {"type": "log", "domain": [200.03, 258.29], "nice": false, "zero": false}}
      }
    }
  ]
}
